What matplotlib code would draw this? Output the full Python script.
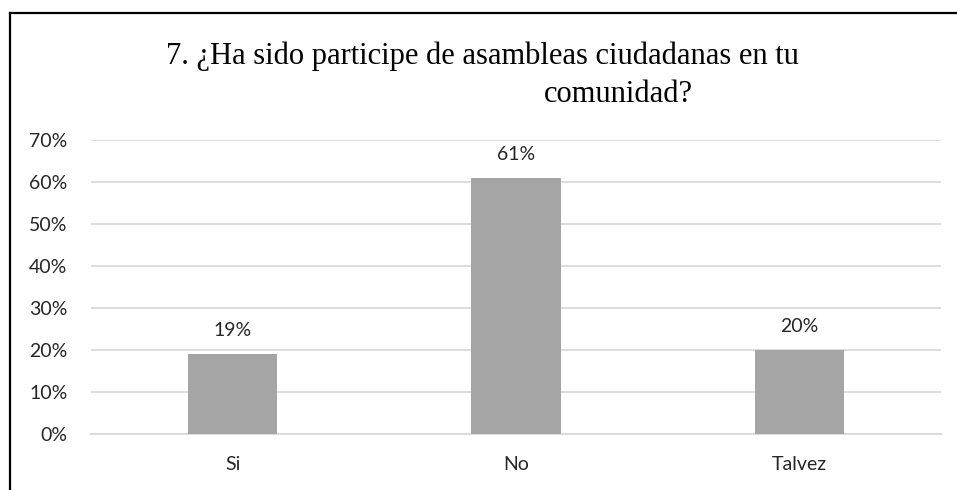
import matplotlib
matplotlib.use("Agg")
import matplotlib.pyplot as plt
from matplotlib.lines import Line2D

categories = ["Si", "No", "Talvez"]
values = [0.19, 0.61, 0.20]
value_labels = ["19%", "61%", "20%"]
yticks = [0.0, 0.1, 0.2, 0.3, 0.4, 0.5, 0.6, 0.7]
ytick_labels = ["0%", "10%", "20%", "30%", "40%", "50%", "60%", "70%"]
title_line1 = "7. ¿Ha sido participe de asambleas ciudadanas en tu"
title_line2 = "comunidad?"

W, H = 957, 490
fig = plt.figure(figsize=(W / 100, H / 100), dpi=100)
fig.patch.set_facecolor("white")

txt_color = "#262626"
sans = ["Lato", "DejaVu Sans"]
fs = 14

ax = fig.add_axes([91 / W, 1 - 434 / H, (941 - 91) / W, (434 - 140) / H])
x = list(range(len(categories)))
ax.bar(x, values, width=0.315, color="#A5A5A5", zorder=3)
ax.set_xlim(-0.5, len(categories) - 0.5)
ax.set_ylim(0, 0.7)
ax.set_yticks(yticks)
ax.set_yticklabels(ytick_labels, fontsize=fs, color=txt_color, family=sans)
ax.set_xticks(x)
ax.set_xticklabels(categories, fontsize=fs, color=txt_color, family=sans)
ax.tick_params(axis="both", length=0)
ax.tick_params(axis="y", pad=17)
ax.tick_params(axis="x", pad=16)
ax.grid(axis="y", color="#D9D9D9", linewidth=1.3, zorder=0)
for s in ["top", "right", "left"]:
    ax.spines[s].set_visible(False)
ax.spines["bottom"].set_color("#D9D9D9")
ax.spines["bottom"].set_linewidth(1.3)

for xi, v, lab in zip(x, values, value_labels):
    ax.annotate(lab, (xi, v), xytext=(0, 11), textcoords="offset points",
                ha="center", va="bottom", fontsize=fs, color=txt_color, family=sans)

serif = ["Liberation Serif", "DejaVu Serif"]
fig.text(482 / W, 1 - 56 / H, title_line1, ha="center", va="center",
         fontsize=22, family=serif, color="black")
fig.text(618 / W, 1 - 94 / H, title_line2, ha="center", va="center",
         fontsize=22, family=serif, color="black")

# border (left and top edges visible)
fig.add_artist(Line2D([9.5 / W, 9.5 / W], [0, 1 - 13 / H], transform=fig.transFigure,
                      color="black", linewidth=1.6))
fig.add_artist(Line2D([9.5 / W, 1.0], [1 - 13 / H, 1 - 13 / H], transform=fig.transFigure,
                      color="black", linewidth=1.6))

fig.savefig("out.png", dpi=100, facecolor="white")
